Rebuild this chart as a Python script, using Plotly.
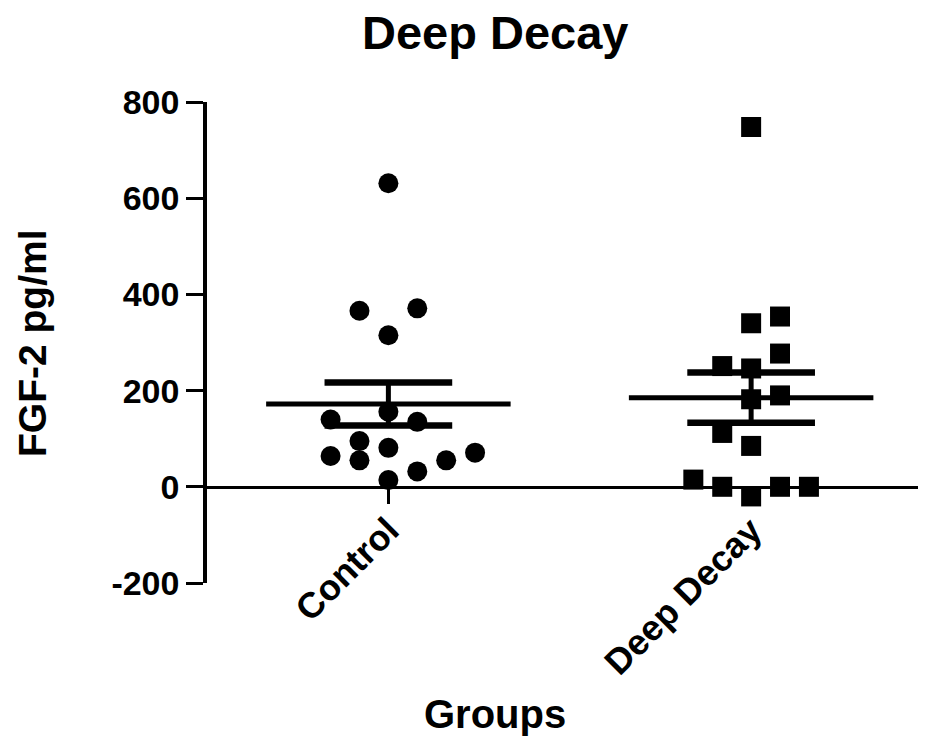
import numpy as np
import plotly.graph_objects as go

# ---- data ----
categories = ["Control", "Deep Decay"]
control_values = [631, 366, 371, 315, 156, 140, 135, 95, 81, 64, 55, 71, 55, 32, 14]
deep_decay_values = [748, 340, 354, 277, 251, 246, 182, 190, 112, 85, 15, 0, -20, 0, 0]
y_tick_values = [-200, 0, 200, 400, 600, 800]
y_tick_labels = ["-200", "0", "200", "400", "600", "800"]

# ---- layout helpers (beeswarm slots, not data) ----
control_slots = [0, -1, 1, 0, 0, -2, 1, -1, 0, -2, -1, 3, 2, 1, 0]
deep_decay_slots = [0, 0, 1, 1, -1, 0, 0, 1, -1, 0, -2, -1, 0, 1, 2]
SLOT_W = 29 / 364.0
centers = [0.5, 1.5]
FONT = "Liberation Sans, Arial, sans-serif"

fig = go.Figure()

groups = [
    (control_values, control_slots, "circle"),
    (deep_decay_values, deep_decay_slots, "square"),
]

for (vals, slots, sym), c in zip(groups, centers):
    v = np.array(vals, dtype=float)
    mean = v.mean()
    sem = v.std(ddof=1) / np.sqrt(len(v))
    # mean line
    fig.add_trace(go.Scatter(x=[c - 0.337, c + 0.337], y=[mean, mean], mode="lines",
                             line=dict(color="black", width=5), showlegend=False, hoverinfo="skip"))
    # SEM caps and stem
    for yy in (mean - sem, mean + sem):
        fig.add_trace(go.Scatter(x=[c - 0.176, c + 0.176], y=[yy, yy], mode="lines",
                                 line=dict(color="black", width=6.5), showlegend=False, hoverinfo="skip"))
    fig.add_trace(go.Scatter(x=[c, c], y=[mean - sem, mean + sem], mode="lines",
                             line=dict(color="black", width=5), showlegend=False, hoverinfo="skip"))
    # points
    xs = [c + s * SLOT_W for s in slots]
    fig.add_trace(go.Scatter(x=xs, y=vals, mode="markers",
                             marker=dict(symbol=sym, size=20, color="black", line=dict(width=0)),
                             showlegend=False, cliponaxis=False))

L, R, T, B = 207, 7, 102, 156
W, H = 925, 739

fig.update_layout(
    width=W, height=H,
    margin=dict(l=L, r=R, t=T, b=B),
    plot_bgcolor="white", paper_bgcolor="white",
    font=dict(family=FONT, color="black", weight="bold"),
    xaxis=dict(
        range=[0, 1.96], tickvals=centers, ticktext=categories,
        tickangle=-45, ticks="outside", ticklen=15, tickwidth=3, tickcolor="black",
        showline=True, linewidth=3, linecolor="black",
        showgrid=False, zeroline=False,
        anchor="free", position=0.2,
        ticklabelstandoff=-9,
        tickfont=dict(size=36, family=FONT, weight="bold"),
    ),
    yaxis=dict(
        range=[-200, 800], tickvals=y_tick_values, ticktext=y_tick_labels,
        ticks="outside", ticklen=17, tickwidth=3, tickcolor="black",
        showline=True, linewidth=3.5, linecolor="black",
        showgrid=False, zeroline=False,
        tickfont=dict(size=34, family=FONT, weight="bold"),
    ),
)

pw = W - L - R
ph = H - T - B
def px2paper(px, py):
    return (px - L) / pw, (H - B - py) / ph

tx, ty = px2paper(495, 32)
fig.add_annotation(text="Deep Decay", x=tx, y=ty, xref="paper", yref="paper",
                   showarrow=False, font=dict(size=47, family=FONT, weight="bold"),
                   xanchor="center", yanchor="middle")
gx, gy = px2paper(495, 714)
fig.add_annotation(text="Groups", x=gx, y=gy, xref="paper", yref="paper",
                   showarrow=False, font=dict(size=40, family=FONT, weight="bold"),
                   xanchor="center", yanchor="middle")
ax_, ay_ = px2paper(32, 343)
fig.add_annotation(text="FGF-2 pg/ml", x=ax_, y=ay_, xref="paper", yref="paper",
                   showarrow=False, textangle=-90, font=dict(size=39, family=FONT, weight="bold"),
                   xanchor="center", yanchor="middle")

fig.write_html("out.html", config={"displayModeBar": False},
               post_script="document.body.style.margin='0px';")
